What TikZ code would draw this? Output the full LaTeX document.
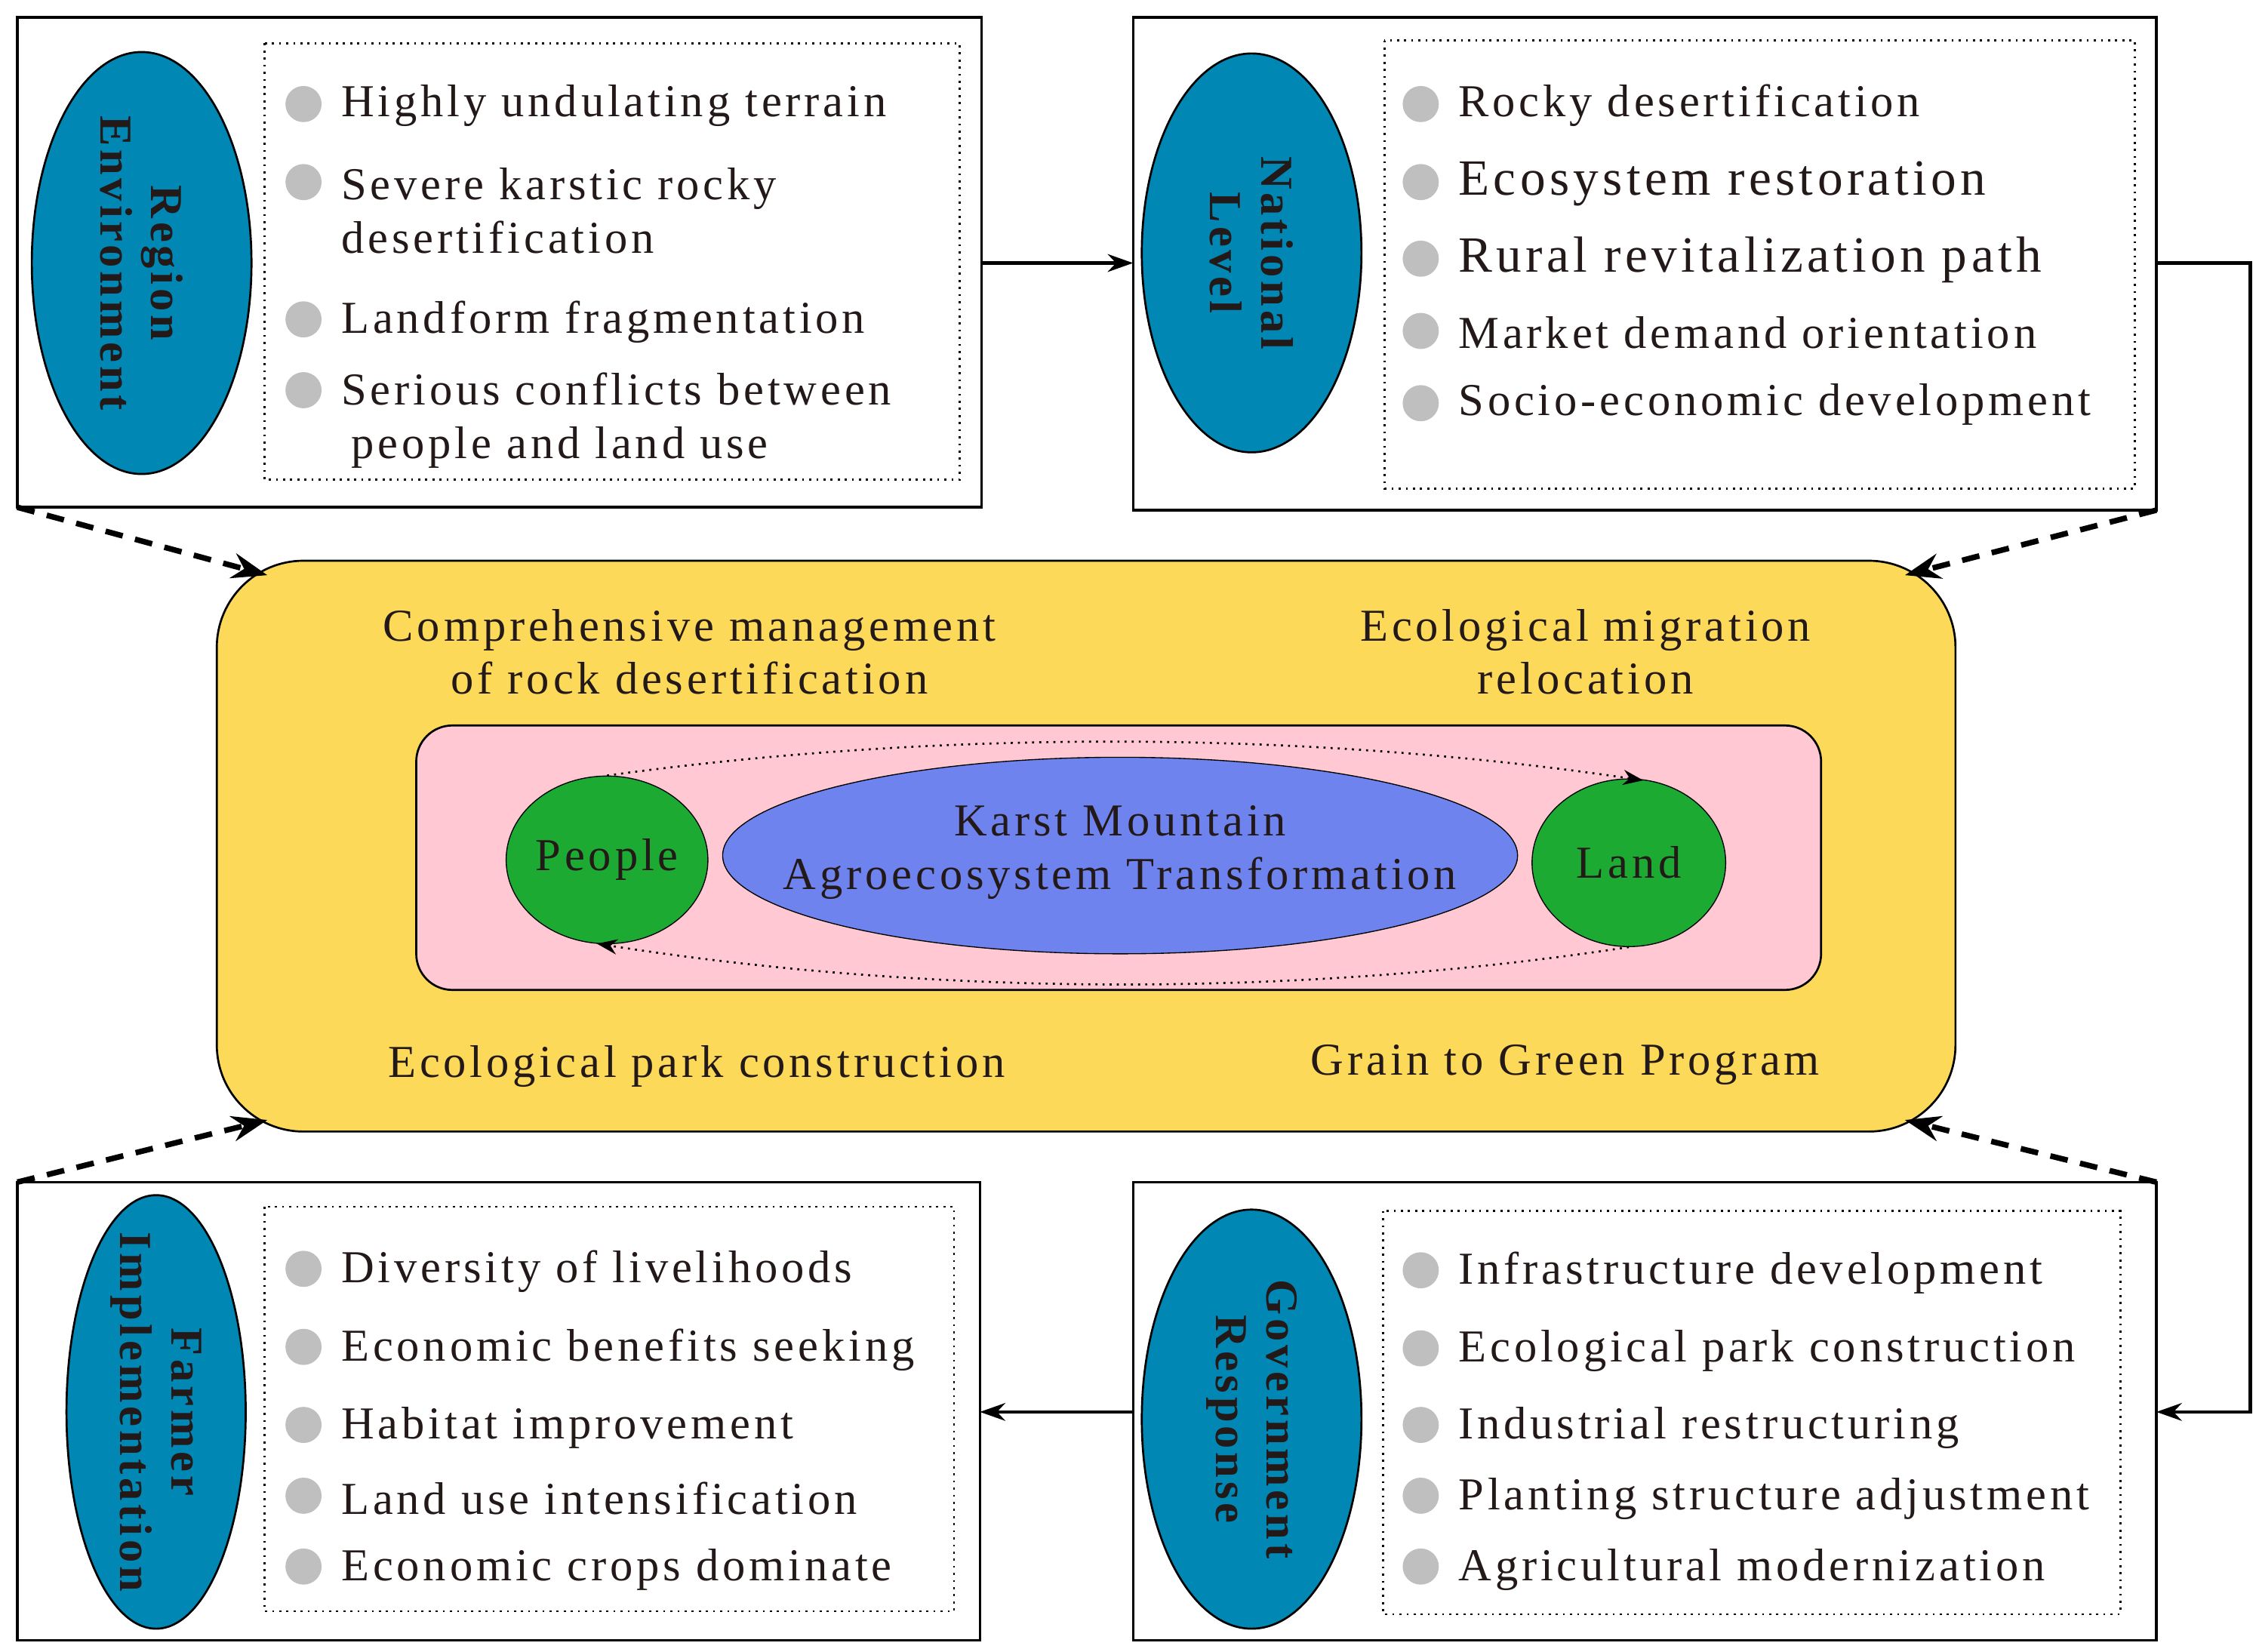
\documentclass[tikz,border=0pt]{standalone}
\usepackage{fontspec}
\setmainfont{Liberation Serif}[LetterSpace=8]
\usetikzlibrary{arrows.meta,shapes.geometric}
\definecolor{teal}{RGB}{0,135,180}
\definecolor{yel}{RGB}{253,217,90}
\definecolor{pnk}{RGB}{255,200,210}
\definecolor{grn}{RGB}{29,170,51}
\definecolor{blu}{RGB}{111,131,238}
\definecolor{txt}{RGB}{35,25,25}
\begin{document}
\begin{tikzpicture}[x=0.02cm,y=-0.02cm,
 box/.style={draw,line width=1pt},
 dbox/.style={draw,dotted,line width=0.8pt},
 ell/.style={draw,fill=teal,line width=0.8pt},
 elab/.style={rotate=-90,font=\fontsize{18}{20}\selectfont\bfseries,align=center,text=txt},
 bul/.style={circle,fill=gray!50,minimum size=0.5cm,inner sep=0},
 it/.style={anchor=west,font=\fontsize{18}{21}\selectfont,text=txt,align=left},
 ct/.style={font=\fontsize{18}{21}\selectfont,text=txt,align=center},
 arr/.style={line width=1.3pt,-{Stealth[length=10pt,width=7pt]}},
 darr/.style={line width=2.2pt,dash pattern=on 7pt off 5pt,-{Stealth[length=14pt,width=10pt]}}]
\useasboundingbox (0,0) rectangle (1563,1143);
% boxes
\draw[box] (12,12) rectangle (679,351);
\draw[box] (784,12) rectangle (1492,353);
\draw[box] (12,818) rectangle (678,1135);
\draw[box] (784,818) rectangle (1492,1135);
\draw[dbox] (183,30) rectangle (664,332);
\draw[dbox] (958,28) rectangle (1477,338);
\draw[dbox] (183,835) rectangle (660,1115);
\draw[dbox] (957,838) rectangle (1467,1117);
% ellipses
\node[ell,ellipse,minimum width=152*0.02cm,minimum height=292*0.02cm] (e1) at (98,182) {};
\node[elab] at (98,182) {Region\\Environment};
\node[ell,ellipse,minimum width=152*0.02cm,minimum height=276*0.02cm] (e2) at (866,175) {};
\node[elab] at (866,175) {National\\Level};
\node[ell,ellipse,minimum width=124*0.02cm,minimum height=300*0.02cm] (e3) at (108,977) {};
\node[elab] at (108,977) {Farmer\\Implementation};
\node[ell,ellipse,minimum width=152*0.02cm,minimum height=290*0.02cm] (e4) at (866,982) {};
\node[elab] at (866,982) {Government\\Response};
% bullets TL
\foreach \y in {72,126,221,270} \node[bul] at (210,\y) {};
\node[it] at (230,73) {Highly undulating terrain};
\node[it] at (230,146) {Severe karstic rocky\\desertification};
\node[it] at (230,223) {Landform fragmentation};
\node[it] at (230,291) {Serious conflicts between\\\hspace{4pt}people and land use};
% TR
\foreach \y in {72,126,179,229,279} \node[bul] at (983,\y) {};
\node[it] at (1003,73) {Rocky desertification};
\node[it,font=\fontsize{20}{22}\selectfont] at (1003,127) {Ecosystem restoration};
\node[it,font=\fontsize{20}{22}\selectfont] at (1003,180) {Rural revitalization path};
\node[it] at (1003,230) {Market demand orientation};
\node[it] at (1003,280) {Socio-economic development};
% BL
\foreach \y in {878,932,986,1035,1084} \node[bul] at (210,\y) {};
\node[it] at (230,880) {Diversity of livelihoods};
\node[it] at (230,934) {Economic benefits seeking};
\node[it] at (230,988) {Habitat improvement};
\node[it] at (230,1037) {Land use intensification};
\node[it] at (230,1086) {Economic crops dominate};
% BR
\foreach \y in {879,933,986,1035,1084} \node[bul] at (983,\y) {};
\node[it] at (1003,881) {Infrastructure development};
\node[it] at (1003,935) {Ecological park construction};
\node[it] at (1003,988) {Industrial restructuring};
\node[it] at (1003,1037) {Planting structure adjustment};
\node[it] at (1003,1086) {Agricultural modernization};
% center
\draw[fill=yel,line width=0.8pt,rounded corners=1.2cm] (150,388) rectangle (1353,783);
\draw[fill=pnk,line width=0.8pt,rounded corners=0.5cm] (288,502) rectangle (1260,685);
\node[ct] at (477,451) {Comprehensive management\\of rock desertification};
\node[ct] at (1097,451) {Ecological migration\\relocation};
\node[ct] at (482,738) {Ecological park construction};
\node[ct] at (1083,737) {Grain to Green Program};
\node[draw,fill=blu,ellipse,minimum width=550*0.02cm,minimum height=136*0.02cm,text width=1pt,inner sep=0] (k) at (775,592) {};
\node[ct] (kt) at (775,590) {Karst Mountain\\Agroecosystem Transformation};
\node[draw,fill=grn,ellipse,minimum width=132*0.02cm,minimum height=116*0.02cm,ct,inner sep=0] (p) at (420,595) {People};
\node[draw,fill=grn,ellipse,minimum width=134*0.02cm,minimum height=116*0.02cm,ct,inner sep=0] (l) at (1127,597) {Land};
\draw[dotted,line width=0.8pt,-{Stealth[length=8pt]}] (p.north) .. controls (650,505) and (900,505) .. (1137,540);
\draw[dotted,line width=0.8pt,-{Stealth[length=8pt]}] (l.south) .. controls (900,690) and (650,690) .. (413,653);
% arrows
\coordinate (a1) at (679,182);
\coordinate (a2) at (784,182);
\draw[arr] (a1) -- (a2);
\coordinate (b1) at (1492,182);
\coordinate (b2) at (1492,977);
\draw[arr] (b1) -- (1557,182) -- (1557,977) -- (b2);
\coordinate (c1) at (784,977);
\coordinate (c2) at (678,977);
\draw[arr] (c1) -- (c2);
\coordinate (d1) at (12,351); \coordinate (d2) at (185,398);
\coordinate (d3) at (1492,353); \coordinate (d4) at (1318,398);
\coordinate (d5) at (12,818); \coordinate (d6) at (185,775);
\coordinate (d7) at (1492,818); \coordinate (d8) at (1318,775);
\draw[darr] (d1) -- (d2);
\draw[darr] (d3) -- (d4);
\draw[darr] (d5) -- (d6);
\draw[darr] (d7) -- (d8);
\end{tikzpicture}
\end{document}
